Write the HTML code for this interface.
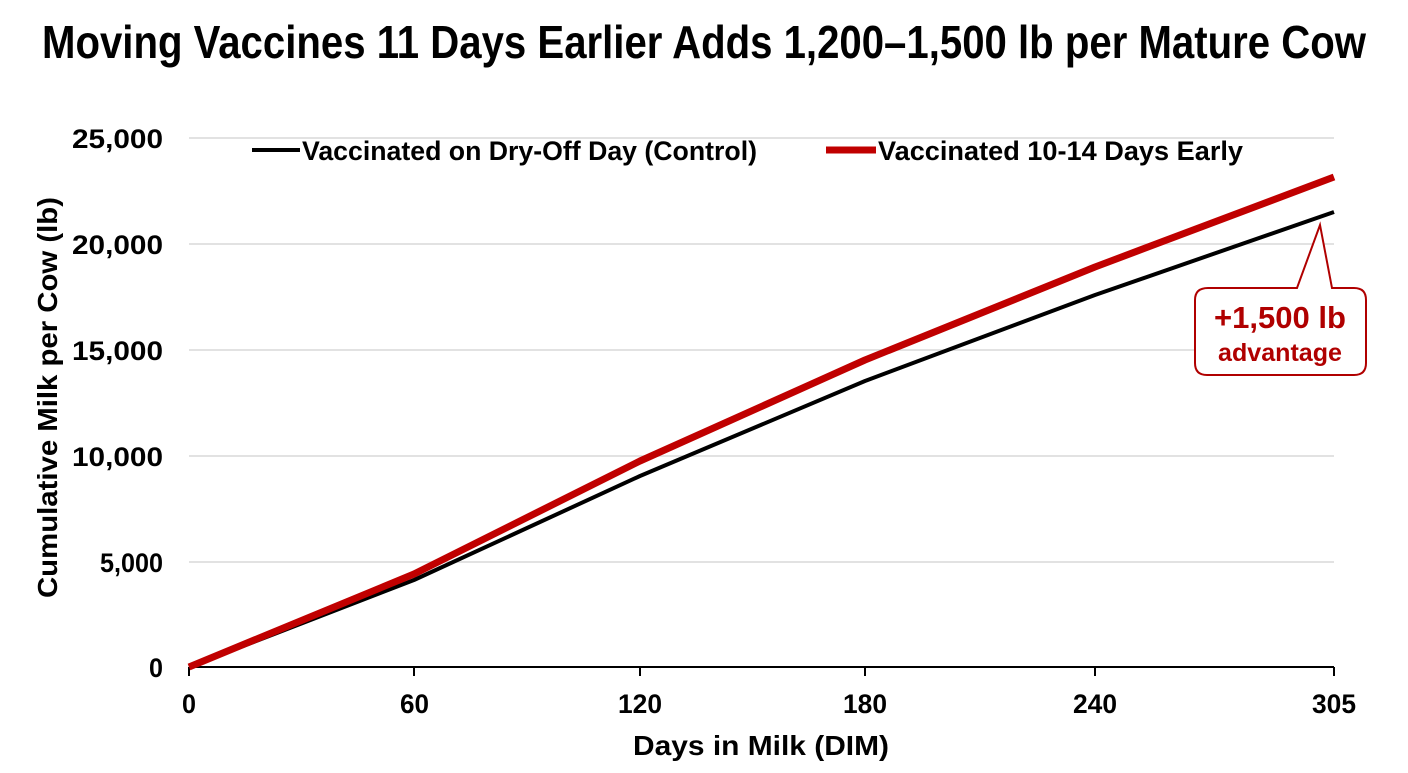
<!DOCTYPE html>
<html><head><meta charset="utf-8"><style>
html,body{margin:0;padding:0;background:#fff;}
svg text{font-family:"Liberation Sans Narrow","Liberation Sans",sans-serif;font-weight:bold;}
</style></head><body>
<svg width="1408" height="768" viewBox="0 0 1408 768" xmlns="http://www.w3.org/2000/svg">
<rect width="1408" height="768" fill="#fff"/>
<text x="42" y="58" font-size="46" fill="#000" textLength="1324" lengthAdjust="spacingAndGlyphs">Moving Vaccines 11 Days Earlier Adds 1,200–1,500 lb per Mature Cow</text>
<g stroke="#d9d9d9" stroke-width="1.5">
<line x1="189" y1="138" x2="1334" y2="138"/>
<line x1="189" y1="244" x2="1334" y2="244"/>
<line x1="189" y1="350" x2="1334" y2="350"/>
<line x1="189" y1="456" x2="1334" y2="456"/>
<line x1="189" y1="562" x2="1334" y2="562"/>
</g>
<line x1="189" y1="667" x2="1334" y2="667" stroke="#000" stroke-width="2"/>
<g stroke="#000" stroke-width="2">
<line x1="189" y1="667" x2="189" y2="676"/><line x1="414" y1="667" x2="414" y2="676"/>
<line x1="640" y1="667" x2="640" y2="676"/><line x1="865" y1="667" x2="865" y2="676"/>
<line x1="1095" y1="667" x2="1095" y2="676"/><line x1="1334" y1="667" x2="1334" y2="676"/>
</g>
<g font-size="27" fill="#000" lengthAdjust="spacingAndGlyphs">
<text x="72" y="148" textLength="91" lengthAdjust="spacingAndGlyphs">25,000</text>
<text x="72" y="254" textLength="91" lengthAdjust="spacingAndGlyphs">20,000</text>
<text x="72" y="360" textLength="91" lengthAdjust="spacingAndGlyphs">15,000</text>
<text x="72" y="466" textLength="91" lengthAdjust="spacingAndGlyphs">10,000</text>
<text x="100" y="572" textLength="63" lengthAdjust="spacingAndGlyphs">5,000</text>
<text x="149" y="677" textLength="14" lengthAdjust="spacingAndGlyphs">0</text>
</g>
<g font-size="27" fill="#000">
<text x="182" y="713" textLength="14" lengthAdjust="spacingAndGlyphs">0</text>
<text x="400" y="713" textLength="29" lengthAdjust="spacingAndGlyphs">60</text>
<text x="618" y="713" textLength="44" lengthAdjust="spacingAndGlyphs">120</text>
<text x="843" y="713" textLength="44" lengthAdjust="spacingAndGlyphs">180</text>
<text x="1073" y="713" textLength="44" lengthAdjust="spacingAndGlyphs">240</text>
<text x="1312" y="713" textLength="44" lengthAdjust="spacingAndGlyphs">305</text>
</g>
<text x="633" y="755" font-size="28" textLength="256" lengthAdjust="spacingAndGlyphs">Days in Milk (DIM)</text>
<text transform="translate(57 598) rotate(-90)" font-size="28" textLength="401" lengthAdjust="spacingAndGlyphs">Cumulative Milk per Cow (lb)</text>
<polyline fill="none" stroke="#000" stroke-width="4" stroke-linejoin="round" points="189,667 414,580 640,476 865,381 1095,295 1334,212"/>
<polyline fill="none" stroke="#c00000" stroke-width="7" stroke-linejoin="round" points="189,667 414,574 640,461 865,360 1095,267 1334,177"/>
<line x1="252" y1="150" x2="300" y2="150" stroke="#000" stroke-width="4"/>
<text x="302" y="160" font-size="27" fill="#000" textLength="455" lengthAdjust="spacingAndGlyphs">Vaccinated on Dry-Off Day (Control)</text>
<line x1="826" y1="150" x2="876" y2="150" stroke="#c00000" stroke-width="7"/>
<text x="878" y="160" font-size="27" fill="#000" textLength="365" lengthAdjust="spacingAndGlyphs">Vaccinated 10-14 Days Early</text>
<path d="M1208,288 L1297,288 L1320,225 L1332,288 L1354,288 Q1366,288 1366,300 L1366,363 Q1366,375 1354,375 L1207,375 Q1195,375 1195,363 L1195,300 Q1195,288 1208,288 Z" fill="#fff" stroke="#b00000" stroke-width="2"/>
<text x="1214" y="328" font-size="31" fill="#b00000" textLength="132" lengthAdjust="spacingAndGlyphs">+1,500 lb</text>
<text x="1218" y="361" font-size="25" fill="#b00000" textLength="124" lengthAdjust="spacingAndGlyphs">advantage</text>
</svg>
</body></html>
